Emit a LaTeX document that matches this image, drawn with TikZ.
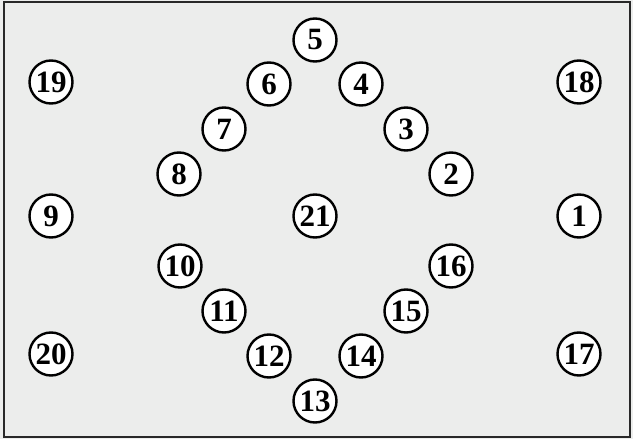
\documentclass[tikz,border=0pt]{standalone}
\usepackage{fontspec}
\setmainfont{Liberation Serif}
\begin{document}
\begin{tikzpicture}[x=1pt,y=-1pt,
  num/.style={circle,draw=black,fill=white,line width=2.4pt,minimum size=43pt,inner sep=0pt,font=\fontsize{31}{31}\selectfont\bfseries}]
\useasboundingbox (0,0) rectangle (633,439);
\fill[fill={rgb,255:red,236;green,237;blue,236}] (0,0) rectangle (633,439);
\draw[line width=1.6pt,draw={rgb,255:red,40;green,40;blue,40}] (4,2) rectangle (630,437);
\node[num] (n5) at (315,40) {5};
\node[num] (n19) at (51,82) {19};
\node[num] (n6) at (269,84) {6};
\node[num] (n4) at (361,84) {4};
\node[num] (n18) at (579,82) {18};
\node[num] (n7) at (224,129) {7};
\node[num] (n3) at (406,129) {3};
\node[num] (n8) at (179,174) {8};
\node[num] (n2) at (451,174) {2};
\node[num] (n9) at (51,216) {9};
\node[num] (n21) at (315,216) {21};
\node[num] (n1) at (579,216) {1};
\node[num] (n10) at (180,266) {10};
\node[num] (n16) at (451,266) {16};
\node[num] (n11) at (224,311) {11};
\node[num] (n15) at (406,311) {15};
\node[num] (n20) at (51,354) {20};
\node[num] (n12) at (269,356) {12};
\node[num] (n14) at (361,356) {14};
\node[num] (n17) at (579,354) {17};
\node[num] (n13) at (315,401) {13};
\end{tikzpicture}
\end{document}
